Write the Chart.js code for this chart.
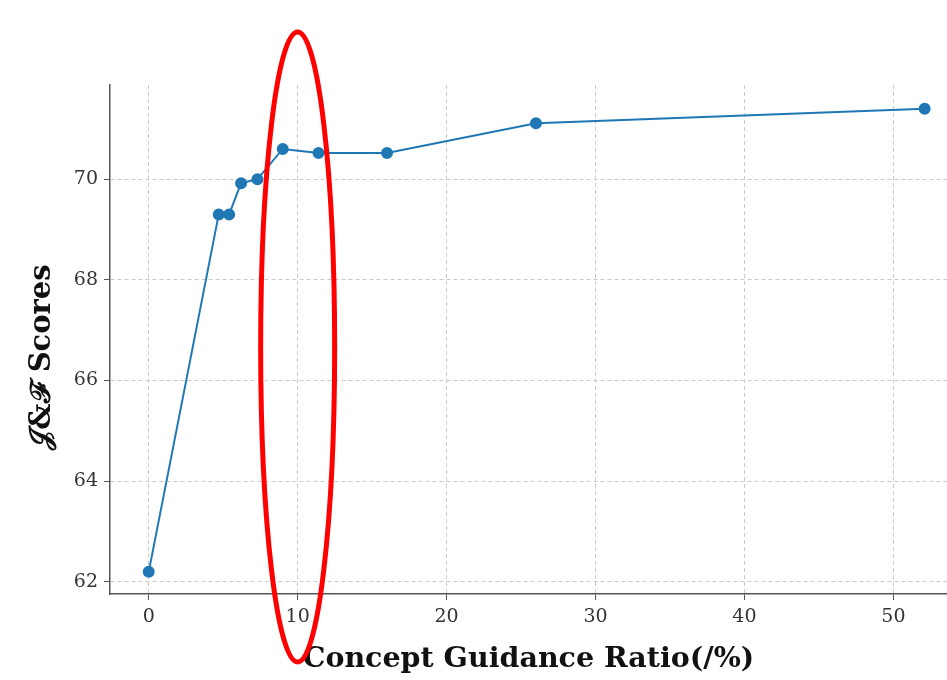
<!DOCTYPE html>
<html>
<head>
<meta charset="utf-8">
<script src="https://cdn.jsdelivr.net/npm/chart.js@4.4.1/dist/chart.umd.min.js"></script>
<style>
  html, body { margin: 0; padding: 0; background: #fff; }
  #wrap { width: 947px; height: 680px; position: relative; }
</style>
</head>
<body>
<div id="wrap"><canvas id="chart" width="947" height="680"></canvas></div>
<script>
// guidance ratio (%) vs J&F score
const ratios = [0, 4.7, 5.4, 6.2, 7.3, 9.0, 11.4, 16.0, 26.0, 52.1];
const scores = [62.2, 69.3, 69.3, 69.92, 70.0, 70.6, 70.52, 70.52, 71.11, 71.4];
const xTicks = [0, 10, 20, 30, 40, 50];
const yTicks = [62, 64, 66, 68, 70];
const xTitle = 'Concept Guidance Ratio(/%)';
const yTitle = '\u{1D4A5}&\u2131 Scores';
const highlightX = 10;

const serif = '"DejaVu Serif", "Liberation Serif", serif';

const overlay = {
  id: 'overlay',
  afterDraw(chart) {
    const { ctx, scales: { x }, chartArea } = chart;
    ctx.save();
    // axis titles
    ctx.fillStyle = '#111';
    ctx.font = 'bold 28.5px ' + serif;
    ctx.textAlign = 'center';
    ctx.textBaseline = 'middle';
    ctx.fillText(xTitle, (chartArea.left + chartArea.right) / 2, 660);
    ctx.translate(42, 357);
    ctx.rotate(-Math.PI / 2);
    ctx.font = 'bold 29px ' + serif;
    ctx.fillText(yTitle, 0, 0);
    ctx.restore();

    // red ellipse around the 10% region
    ctx.save();
    ctx.strokeStyle = '#ff0000';
    ctx.lineWidth = 5;
    ctx.beginPath();
    ctx.ellipse(x.getPixelForValue(highlightX), 347, 37, 315, 0, 0, Math.PI * 2);
    ctx.stroke();
    ctx.restore();
  }
};

const gridOpts = {
  color: '#cacaca',
  tickColor: '#555',
  tickLength: 6,
  tickBorderDash: [],
  drawTicks: true
};
const borderOpts = { display: true, color: '#555', width: 1.5, dash: [4, 3] };

new Chart(document.getElementById('chart'), {
  type: 'line',
  data: {
    datasets: [{
      data: ratios.map((r, i) => ({ x: r, y: scores[i] })),
      borderColor: '#1f77b4',
      backgroundColor: '#1f77b4',
      borderWidth: 2,
      pointRadius: 5,
      pointHoverRadius: 5,
      tension: 0
    }]
  },
  options: {
    responsive: false,
    animation: false,
    devicePixelRatio: 1,
    layout: { autoPadding: false, padding: { top: 85, right: 0, left: 0, bottom: 0 } },
    plugins: { legend: { display: false }, tooltip: { enabled: false } },
    scales: {
      x: {
        type: 'linear',
        min: -2.6,
        max: 53.6,
        afterFit: s => { s.height = 86; s.paddingRight = 0; s.paddingLeft = 0; },
        afterBuildTicks: s => { s.ticks = xTicks.map(v => ({ value: v })); },
        border: borderOpts,
        grid: gridOpts,
        ticks: { color: '#333', font: { family: serif, size: 19 }, padding: 6, maxRotation: 0 }
      },
      y: {
        min: 61.76,
        max: 71.87,
        afterFit: s => { s.width = 110; s.paddingTop = 0; s.paddingBottom = 0; },
        afterBuildTicks: s => { s.ticks = yTicks.map(v => ({ value: v })); },
        border: borderOpts,
        grid: gridOpts,
        ticks: { color: '#333', font: { family: serif, size: 19 }, padding: 6 }
      }
    }
  },
  plugins: [overlay]
});
</script>
</body>
</html>
